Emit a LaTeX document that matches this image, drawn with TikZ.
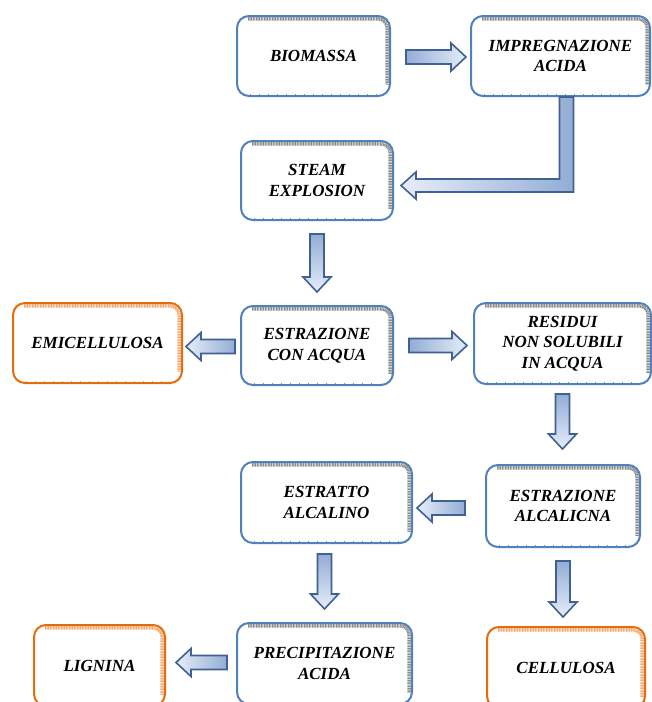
\documentclass[tikz,border=0pt]{standalone}
\usepackage{fontspec}
\setmainfont{Liberation Serif}
\usetikzlibrary{calc}
\definecolor{boxblue}{HTML}{4F81BD}
\definecolor{boxorange}{HTML}{E46C0A}
\definecolor{arrline}{HTML}{3F6292}
\definecolor{arrdark}{HTML}{93ADD6}
\definecolor{arrlight}{HTML}{E6EDF8}
\definecolor{shadowgray}{HTML}{8C8C8C}
\definecolor{shadoworange}{HTML}{F2A870}
\tikzset{
  box/.style={draw=boxblue, line width=2pt, rounded corners=12pt, fill=white,
    align=center, inner sep=0pt,
    font=\bfseries\itshape\fontsize{17}{20.5}\selectfont},
  obox/.style={box, draw=boxorange},
  barrowstyle/.style={draw=arrline, line width=1.6pt, line join=miter},
  toright/.style={left color=arrdark, right color=arrlight},
  toleft/.style={left color=arrlight, right color=arrdark},
  todown/.style={top color=arrdark, bottom color=arrlight},
}
\newcommand\barrow[3]{%
  \coordinate (ta) at #2;
  \coordinate (tb) at #3;
  \coordinate (hb) at ($(tb)!15pt!(ta)$);
  \shadedraw[barrowstyle,#1]
    ($(ta)!7pt!90:(tb)$) -- ($(hb)!7pt!90:(tb)$) -- ($(hb)!14pt!90:(tb)$) --
    (tb) -- ($(hb)!14pt!-90:(tb)$) -- ($(hb)!7pt!-90:(tb)$) --
    ($(ta)!7pt!-90:(tb)$) -- cycle;
}
\newcommand\boxshadow[2]{%
  \draw[line width=3.5pt, draw=#2, dash pattern=on 1pt off 0.6pt, rounded corners=9pt]
    ($(#1.north west)+(12,3.8)$) -- ($(#1.north east)+(-3.8,3.8)$) -- ($(#1.south east)+(-3.8,-12)$);
  \draw[line width=1pt, draw=#2, dash pattern=on 1pt off 8pt]
    ($(#1.south west)+(14,-2.5)$) -- ($(#1.south east)+(-14,-2.5)$);
}
\begin{document}
\begin{tikzpicture}[x=1pt,y=-1pt]
\useasboundingbox (0,0) rectangle (652,702);
\clip (0,0) rectangle (652,702);
\fill[white] (0,0) rectangle (652,702);

% boxes
\node[box, minimum width=153pt, minimum height=80pt] (bio) at (313.5,56) {BIOMASSA};
\node[box, minimum width=179pt, minimum height=80pt] (imp) at (560.5,56) {IMPREGNAZIONE\\ACIDA};
\node[box, minimum width=152pt, minimum height=79pt] (steam) at (317,180.5) {STEAM\\EXPLOSION};
\node[obox, minimum width=169pt, minimum height=80pt] (emi) at (97.5,343) {EMICELLULOSA};
\node[box, minimum width=152pt, minimum height=79pt] (acq) at (317,345.5) {ESTRAZIONE\\CON ACQUA};
\node[box, minimum width=177pt, minimum height=81pt] (res) at (562.5,343.5) {RESIDUI\\NON SOLUBILI\\IN ACQUA};
\node[box, minimum width=171pt, minimum height=81pt] (estr) at (326.5,502.5) {ESTRATTO\\ALCALINO};
\node[box, minimum width=154pt, minimum height=82pt] (alc) at (563,506) {ESTRAZIONE\\ALCALICNA};
\node[obox, minimum width=131pt, minimum height=81pt] (lig) at (99.5,665.5) {LIGNINA};
\node[box, minimum width=175pt, minimum height=81pt] (prec) at (324.5,663.5) {PRECIPITAZIONE\\ACIDA};
\node[obox, minimum width=158pt, minimum height=81pt] (cell) at (566,667.5) {CELLULOSA};

\foreach \b in {bio,imp,steam,acq,res,estr,alc,prec} {\boxshadow{\b}{shadowgray}}
\foreach \b in {emi,lig,cell} {\boxshadow{\b}{shadoworange}}

% straight block arrows
\barrow{toright}{($(bio.east)+(15,1)$)}{($(imp.west |- bio.east)+(-4,1)$)}
\barrow{todown}{($(steam.south)+(0,13)$)}{($(steam.south |- acq.north)+(0,-13)$)}
\barrow{toleft}{($(acq.west)+(-5,1)$)}{($(emi.east |- acq.west)+(3,1)$)}
\barrow{toright}{($(acq.east)+(15,0)$)}{($(res.west |- acq.east)+(-6,0)$)}
\barrow{todown}{($(res.south)+(0,9)$)}{($(res.south |- alc.north)+(0,-15)$)}
\barrow{toleft}{($(alc.west)+(-20,2)$)}{($(estr.east |- alc.west)+(4,2)$)}
\barrow{todown}{($(prec.north |- estr.south)+(0,10)$)}{($(prec.north)+(0,-13)$)}
\barrow{todown}{($(alc.south)+(0,13)$)}{($(alc.south |- cell.north)+(0,-9)$)}
\barrow{toleft}{($(prec.west)+(-9,-1)$)}{($(lig.east |- prec.west)+(10,-1)$)}

% elbow arrow imp -> steam
\coordinate (ea) at ($(imp.south)+(6,0)$);
\coordinate (eb) at ($(steam.east)+(7,5)$);
\coordinate (ec) at (ea |- eb);
\shadedraw[barrowstyle, toleft]
  ($(ea)+(-7,0)$) -- ($(ea)+(7,0)$) -- ($(ec)+(7,6.5)$) -- ($(eb)+(15,6.5)$) --
  ($(eb)+(15,13.5)$) -- (eb) -- ($(eb)+(15,-13.5)$) -- ($(eb)+(15,-6.5)$) --
  ($(ec)+(-7,-6.5)$) -- cycle;
\end{tikzpicture}
\end{document}
